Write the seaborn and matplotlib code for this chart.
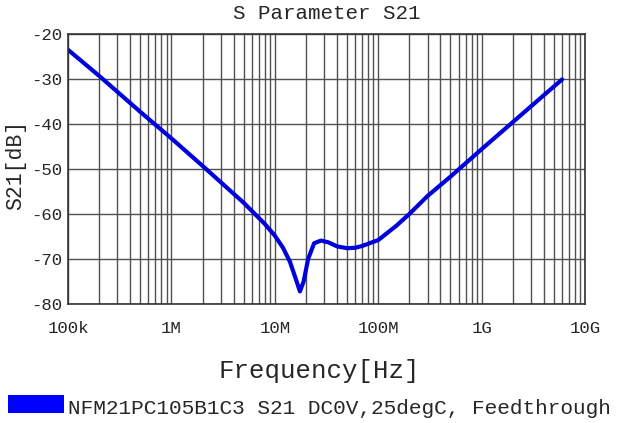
import numpy as np
import pandas as pd
import matplotlib
matplotlib.use("Agg")
import matplotlib.pyplot as plt
from matplotlib.patches import Rectangle
import seaborn as sns

# Values
freq_hz = [1e5, 2e5, 5e5, 1e6, 2e6, 5e6, 8e6, 1e7, 1.2e7, 1.4e7, 1.6e7, 1.75e7,
           1.9e7, 2.1e7, 2.4e7, 2.8e7, 3.3e7, 4e7, 5e7, 6e7, 7e7, 1e8, 1.5e8,
           2e8, 3e8, 5e8, 1e9, 2e9, 4e9, 6e9]
s21_db = [-23.5, -29.3, -37.3, -43.2, -49.3, -57.5, -62.2, -64.8, -67.5, -70.6,
          -74.5, -77.2, -75.0, -70.0, -66.5, -65.9, -66.3, -67.2, -67.6, -67.5,
          -67.1, -65.8, -62.6, -60.0, -56.0, -51.7, -45.6, -39.6, -33.6, -30.1]
x_ticks = [1e5, 1e6, 1e7, 1e8, 1e9, 1e10]
x_labels = ["100k", "1M", "10M", "100M", "1G", "10G"]
y_ticks = [-80, -70, -60, -50, -40, -30, -20]
series_name = "NFM21PC105B1C3 S21 DC0V,25degC, Feedthrough"

df = pd.DataFrame({"freq": freq_hz, "s21": s21_db})

sns.set_style("white")
plt.rcParams["font.family"] = ["Liberation Mono", "DejaVu Sans Mono"]
plt.rcParams["axes.unicode_minus"] = False

W, H = 621, 423
fig = plt.figure(figsize=(W / 100, H / 100), dpi=100)
ax = fig.add_axes([68 / W, 1 - 304 / H, 517 / W, 270 / H])

sns.lineplot(data=df, x="freq", y="s21", ax=ax, color="#0000dd", linewidth=3)

ax.set_xscale("log")
ax.set_xlim(1e5, 1e10)
ax.set_ylim(-80, -20)
ax.set_xticks(x_ticks)
ax.set_xticklabels(x_labels)
ax.set_yticks(y_ticks)
ax.grid(True, which="major", color="#505050", linewidth=1)
ax.grid(True, which="minor", axis="x", color="#505050", linewidth=1)
ax.tick_params(which="both", length=0, labelsize=12.5)
ax.tick_params(axis="x", pad=12)
ax.tick_params(axis="y", pad=4)
for s in ax.spines.values():
    s.set_color("#333333")
    s.set_linewidth(1.2)

ax.set_title("S Parameter S21", fontsize=15, pad=11)
ax.set_xlabel("")
ax.set_ylabel("")
fig.text(319 / W, 1 - 371 / H, "Frequency[Hz]", fontsize=18.5,
         ha="center", va="center")
fig.text(16 / W, 1 - 165 / H, "S21[dB]", fontsize=15.5, rotation=90,
         ha="center", va="center")

# legend: colour box + series name
fig.add_artist(Rectangle((8 / W, 1 - 413 / H), 56 / W, 18 / H,
                         transform=fig.transFigure, color="#0000ff", lw=0))
fig.text(68 / W, 1 - 414 / H, series_name, fontsize=15.2,
         ha="left", va="baseline")

fig.savefig("out.png", dpi=100)
